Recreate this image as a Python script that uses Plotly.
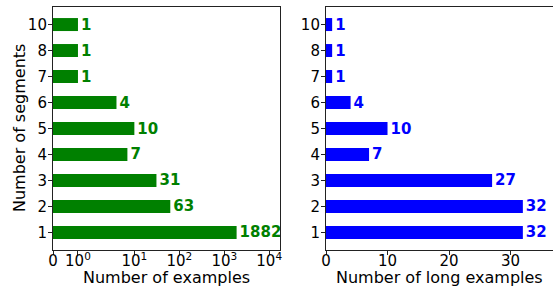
import math
import plotly.graph_objects as go

# ---- data ----
segments = ["1", "2", "3", "4", "5", "6", "7", "8", "10"]
num_examples = [1882, 63, 31, 7, 10, 4, 1, 1, 1]
num_long_examples = [32, 32, 27, 7, 10, 4, 1, 1, 1]
left_tick_values = [0, 1, 10, 100, 1000, 10000]
left_tick_labels = ["0", "10<sup>0</sup>", "10<sup>1</sup>", "10<sup>2</sup>", "10<sup>3</sup>", "10<sup>4</sup>"]
right_tick_values = [0, 10, 20, 30]

# symlog transform (linthresh=2, linscale=1, base 10) like matplotlib
LINTHRESH = 2.0
LINSCALE_ADJ = 1.0 / (1.0 - 1.0 / 10.0)


def symlog(v):
    a = abs(v)
    if a <= LINTHRESH:
        out = a * LINSCALE_ADJ
    else:
        out = LINTHRESH * (LINSCALE_ADJ + math.log10(a / LINTHRESH))
    return math.copysign(out, v)


W, H = 553, 286
FONT = "DejaVu Sans"
GREEN = "#008000"
BLUE = "#0000ff"

fig = go.Figure()

fig.add_trace(go.Bar(
    y=segments, x=[symlog(v) for v in num_examples], orientation="h",
    width=0.5, marker=dict(color=GREEN, line=dict(width=0)),
    text=[f"<b>{v}</b>" for v in num_examples], textposition="outside",
    textfont=dict(color=GREEN, size=15, family=FONT), cliponaxis=False,
    constraintext="none", xaxis="x", yaxis="y", showlegend=False,
    hoverinfo="skip",
))
fig.add_trace(go.Bar(
    y=segments, x=num_long_examples, orientation="h",
    width=0.5, marker=dict(color=BLUE, line=dict(width=0)),
    text=[f"<b>{v}</b>" for v in num_long_examples], textposition="outside",
    textfont=dict(color=BLUE, size=15, family=FONT), cliponaxis=False,
    constraintext="none", xaxis="x2", yaxis="y2", showlegend=False,
    hoverinfo="skip",
))

axis_common = dict(
    showline=True, linecolor="#222222", linewidth=1.1,
    ticks="outside", ticklen=4, tickwidth=1, tickcolor="#222222",
    showgrid=False, zeroline=False, automargin=False,
    tickfont=dict(size=15, family=FONT, color="black"),
)

yrange = [-0.675, 8.675]

fig.update_layout(
    width=W, height=H,
    margin=dict(l=0, r=0, t=7, b=36, autoexpand=False),
    plot_bgcolor="white", paper_bgcolor="white",
    font=dict(family=FONT, color="black"),
    xaxis=dict(domain=[53 / W, 280 / W], range=[0, 10.1],
               tickvals=[symlog(v) for v in left_tick_values],
               ticktext=left_tick_labels, mirror=True, anchor="y",
               ticklabelstandoff=-7, **axis_common),
    yaxis=dict(domain=[0, 1], type="category", categoryorder="array",
               categoryarray=segments, range=yrange, mirror=True, anchor="x",
               ticklabelstandoff=-2, **axis_common),
    xaxis2=dict(domain=[326 / W, 1.0], range=[0, 36.9], tickvals=right_tick_values,
                mirror=True, anchor="y2", ticklabelstandoff=-7, **axis_common),
    yaxis2=dict(domain=[0, 1], type="category", categoryorder="array",
                categoryarray=segments, range=yrange, mirror=False, anchor="x2",
                ticklabelstandoff=-2, **axis_common),
    bargap=0.5,
)

plot_h = H - 7 - 36


def py(pix_from_top):
    return (H - 36 - pix_from_top) / plot_h


fig.add_annotation(text="Number of examples", xref="paper", yref="paper",
                   x=(53 + 280) / 2 / W, y=py(277.5), xanchor="center", yanchor="middle",
                   showarrow=False, font=dict(size=16, family=FONT, color="black"))
fig.add_annotation(text="Number of long examples", xref="paper", yref="paper",
                   x=(326 + 553) / 2 / W, y=py(277.5), xanchor="center", yanchor="middle",
                   showarrow=False, font=dict(size=16, family=FONT, color="black"))
fig.add_annotation(text="Number of segments", xref="paper", yref="paper",
                   x=20 / W, y=py(128), xanchor="center", yanchor="middle", textangle=-90,
                   showarrow=False, font=dict(size=16, family=FONT, color="black"))

fig.write_html(
    "out.html",
    config={"displayModeBar": False},
    post_script="document.body.style.margin='0';document.body.style.overflow='hidden';",
)
